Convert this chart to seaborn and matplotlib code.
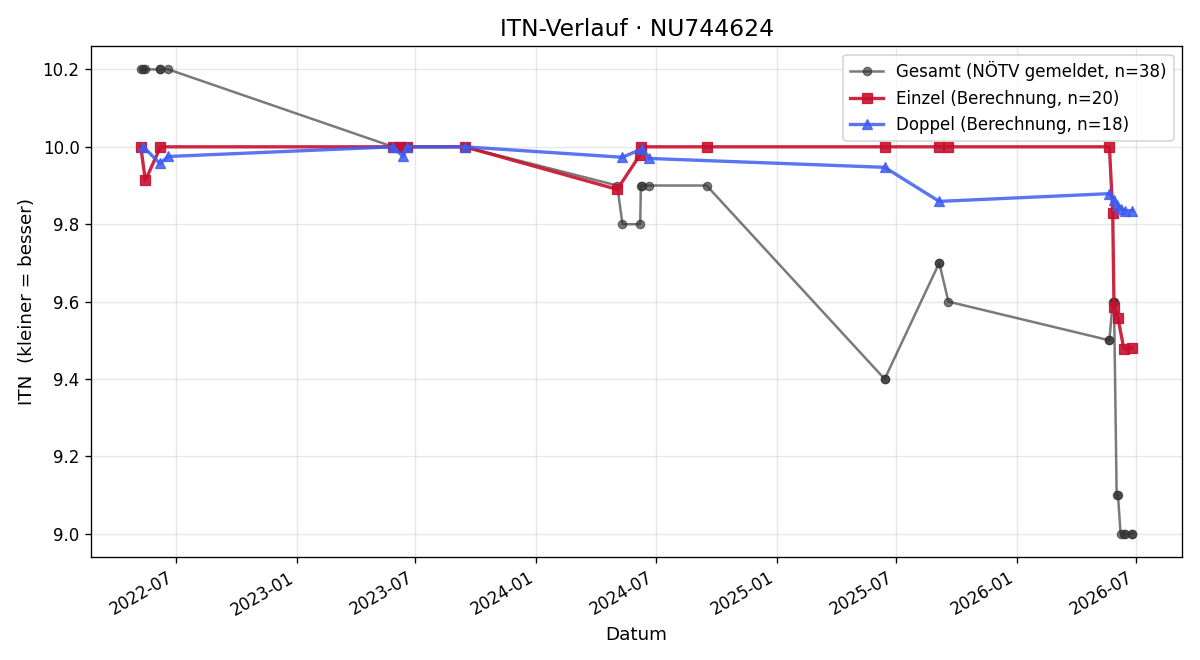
import pandas as pd
import matplotlib
matplotlib.use('Agg')
import matplotlib.pyplot as plt
import matplotlib.dates as mdates
import seaborn as sns

# %% Data
gesamt_dates = ['2022-05-09', '2022-05-13', '2022-05-16', '2022-06-07', '2022-06-08', '2022-06-20',
                '2023-05-28', '2023-05-28', '2023-06-07', '2023-06-12', '2023-06-18', '2023-06-18',
                '2023-09-14', '2023-09-14',
                '2024-05-03', '2024-05-11', '2024-06-07', '2024-06-08', '2024-06-10', '2024-06-20',
                '2024-09-16',
                '2025-06-14', '2025-06-14', '2025-09-05', '2025-09-05', '2025-09-19',
                '2026-05-22', '2026-05-22', '2026-05-27', '2026-05-29', '2026-05-29', '2026-06-02',
                '2026-06-04', '2026-06-08', '2026-06-13', '2026-06-14', '2026-06-25', '2026-06-26']
gesamt_itn = [10.2, 10.2, 10.2, 10.2, 10.2, 10.2,
              10.0, 10.0, 10.0, 10.0, 10.0, 10.0,
              10.0, 10.0,
              9.9, 9.8, 9.8, 9.9, 9.9, 9.9,
              9.9,
              9.4, 9.4, 9.7, 9.7, 9.6,
              9.5, 9.5, 9.6, 9.6, 9.6, 9.1,
              9.1, 9.0, 9.0, 9.0, 9.0, 9.0]

einzel_dates = ['2022-05-09', '2022-05-16', '2022-06-08',
                '2023-05-28', '2023-06-07', '2023-06-18', '2023-09-14',
                '2024-05-03', '2024-06-07', '2024-06-08', '2024-09-16',
                '2025-06-14', '2025-09-05', '2025-09-19',
                '2026-05-22', '2026-05-27', '2026-05-29', '2026-06-04', '2026-06-13', '2026-06-25']
einzel_itn = [10.0, 9.913, 10.0,
              10.0, 10.0, 10.0, 10.0,
              9.89, 9.98, 10.0, 10.0,
              10.0, 10.0, 10.0,
              10.0, 9.83, 9.585, 9.557, 9.478, 9.48]

doppel_dates = ['2022-05-13', '2022-06-07', '2022-06-20',
                '2023-05-28', '2023-06-12', '2023-06-18', '2023-09-14',
                '2024-05-11', '2024-06-10', '2024-06-20',
                '2025-06-14', '2025-09-05',
                '2026-05-22', '2026-05-29', '2026-06-02', '2026-06-08', '2026-06-14', '2026-06-26']
doppel_itn = [10.0, 9.957, 9.975,
              10.0, 9.975, 10.0, 10.0,
              9.973, 9.995, 9.97,
              9.947, 9.859,
              9.879, 9.862, 9.85, 9.84, 9.835, 9.835]

GRAY, RED, BLUE = '#333333', '#C8102E', '#3D5CF0'

# %% Plot
fig, ax = plt.subplots(figsize=(10, 5.5), dpi=120)

sns.lineplot(x=pd.to_datetime(gesamt_dates), y=gesamt_itn, ax=ax, estimator=None, sort=False,
             color=GRAY, alpha=0.65, marker='o', markersize=5, markeredgecolor=GRAY, linewidth=1.5,
             label='Gesamt (NÖTV gemeldet, n=%d)' % len(gesamt_itn))
sns.lineplot(x=pd.to_datetime(einzel_dates), y=einzel_itn, ax=ax, estimator=None, sort=False,
             color=RED, alpha=0.9, marker='s', markersize=6, markeredgecolor=RED, linewidth=2,
             label='Einzel (Berechnung, n=%d)' % len(einzel_itn))
sns.lineplot(x=pd.to_datetime(doppel_dates), y=doppel_itn, ax=ax, estimator=None, sort=False,
             color=BLUE, alpha=0.85, marker='^', markersize=6, markeredgecolor=BLUE, linewidth=2,
             label='Doppel (Berechnung, n=%d)' % len(doppel_itn))

ax.xaxis.set_major_locator(mdates.MonthLocator(bymonth=[1, 7]))
ax.xaxis.set_major_formatter(mdates.DateFormatter('%Y-%m'))
ax.grid(True, alpha=0.3)
ax.set_title('ITN-Verlauf · NU744624', fontsize=14)
ax.set_xlabel('Datum', fontsize=11)
ax.set_ylabel('ITN  (kleiner = besser)', fontsize=11)
ax.legend(loc='upper right', fontsize=10)
fig.autofmt_xdate()
plt.subplots_adjust(left=0.076, right=0.985, top=0.930, bottom=0.156)
plt.savefig('out.png')
